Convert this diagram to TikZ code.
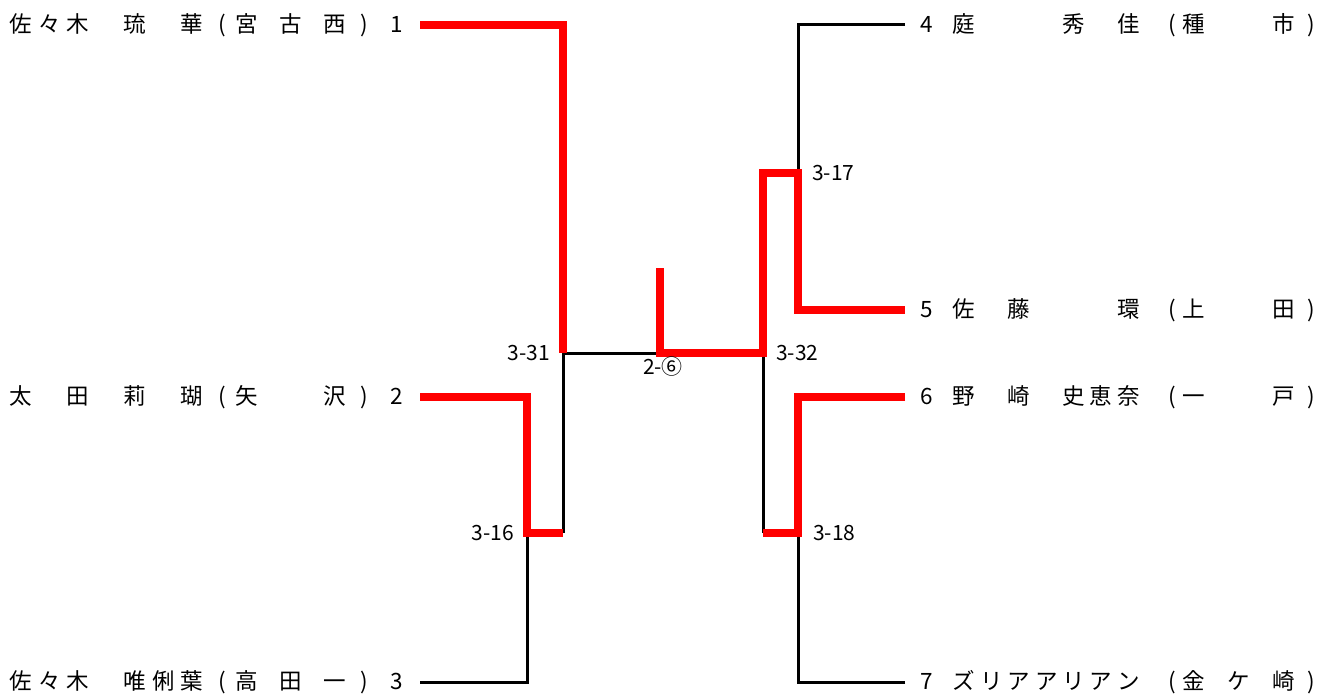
\documentclass[tikz,border=0pt]{standalone}
\usepackage{fontspec}
\newfontfamily\jp{Noto Sans CJK JP}
\usetikzlibrary{positioning}

% one character centred at #1pt from the left edge of the entry
\newcommand{\putc}[2]{\rlap{\hspace*{#1pt}\makebox[0pt][c]{#2}}}
\newcommand{\lentry}[3]{\makebox[420pt][l]{\vphantom{国}%
  \foreach \ch [count=\idx from 0] in {#1}{\pgfmathsetmacro\xx{21+28.5*\idx}\putc{\xx}{\ch}}%
  \putc{222}{(}%
  \foreach \ch [count=\idx from 0] in {#2}{\pgfmathsetmacro\xx{247+44*\idx}\putc{\xx}{\ch}}%
  \putc{364}{)}\putc{397}{#3}}}
\newcommand{\rentry}[3]{\makebox[425pt][l]{\vphantom{国}%
  \putc{22}{#3}%
  \foreach \ch [count=\idx from 0] in {#1}{\pgfmathsetmacro\xx{59+27.4*\idx}\putc{\xx}{\ch}}%
  \putc{267}{(}%
  \foreach \ch [count=\idx from 0] in {#2}{\pgfmathsetmacro\xx{289+45*\idx}\putc{\xx}{\ch}}%
  \putc{406}{)}}}

\begin{document}
\begin{tikzpicture}[x=1pt, y=-1pt,
  player/.style={inner sep=0pt, font=\jp\fontsize{22.5}{22.5}\selectfont},
  score/.style={inner sep=0pt, font=\jp\fontsize{21}{21}\selectfont},
  lose/.style={line width=3pt},
  win/.style={line width=7.5pt, red},
]
  \useasboundingbox (0,0) rectangle (1330,695);

  \node[player, anchor=west] (p1) at (0,25) {\lentry{佐,々,木,{},琉,{},華}{宮,古,西}{1}};
  \node[player, anchor=west] (p2) at (0,397) {\lentry{太,{},田,{},莉,{},瑚}{矢,{},沢}{2}};
  \node[player, anchor=west] (p3) at (0,682) {\lentry{佐,々,木,{},唯,俐,葉}{高,田,一}{3}};
  \node[player, anchor=west] (p4) at (905,25) {\rentry{庭,{},{},{},秀,{},佳}{種,{},市}{4}};
  \node[player, anchor=west] (p5) at (905,310) {\rentry{佐,{},藤,{},{},{},環}{上,{},田}{5}};
  \node[player, anchor=west] (p6) at (905,397) {\rentry{野,{},崎,{},史,恵,奈}{一,{},戸}{6}};
  \node[player, anchor=west] (p7) at (905,682) {\rentry{ズ,リ,ア,ア,リ,ア,ン}{金,ケ,崎}{7}};

  % bracket points
  \coordinate (r1) at (527,533);  \coordinate (r1x) at (563,533);
  \coordinate (r2) at (798,173);  \coordinate (r2x) at (763,173);
  \coordinate (r3) at (798,533);  \coordinate (r3x) at (763,533);
  \coordinate (sl) at (563,353);  \coordinate (sr) at (763,353);
  \coordinate (fin) at (660,353); \coordinate (top) at (660,268);

  \draw[lose] (p3.east) -| (r1);
  \draw[lose] (r1x) -- (sl) -- (fin);
  \draw[lose] (p4.west) -| (r2);
  \draw[lose] (p7.west) -| (r3);
  \draw[lose] (r3x) -- (sr);

  \draw[win] (p1.east) -| (sl);
  \draw[win] (p2.east) -| (r1) -- (r1x);
  \draw[win] (p6.west) -| (r3) -- (r3x);
  \draw[win] (top) -- (fin) -- (sr) -- (r2x) -- (r2) |- (p5.west);

  \node[score, left=13pt of sl] (s331) {3-31};
  \node[score, right=13pt of sr] (s332) {3-32};
  \node[score, right=14pt of r2] (s317) {3-17};
  \node[score, left=13pt of r1] (s316) {3-16};
  \node[score, right=15pt of r3] (s318) {3-18};
  \node[score] (s26) at ([shift={(3,14)}]fin) {2-⑥};
\end{tikzpicture}
\end{document}
